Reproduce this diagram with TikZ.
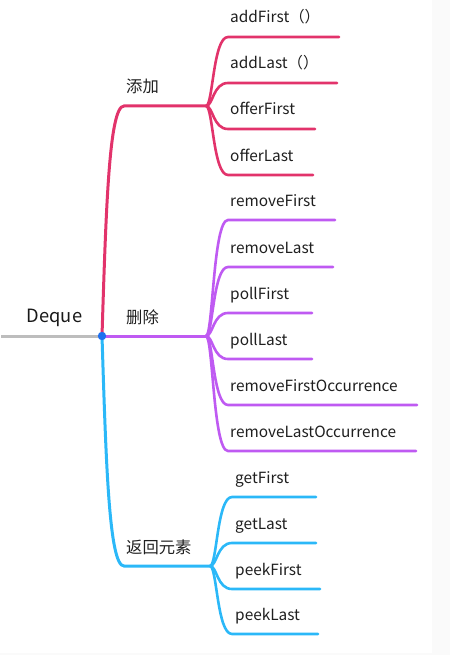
\documentclass[tikz,border=0pt]{standalone}
\usepackage{fontspec}
\setmainfont{Noto Sans CJK SC}
\definecolor{cred}{HTML}{E2336B}
\definecolor{cpur}{HTML}{BF5AF2}
\definecolor{cblu}{HTML}{2BB8F8}
\definecolor{cdot}{HTML}{1E6FF0}
\definecolor{cgray}{HTML}{BDBDBD}
\definecolor{cedge}{HTML}{FAFAFA}
\begin{document}
\begin{tikzpicture}[x=1pt,y=-1pt,
  branch/.style={line width=3pt,line cap=round},
  leaf/.style={line width=2.6pt,line cap=round},
  leaflabel/.style={anchor=base west,inner sep=0pt,font=\fontsize{15.4}{17}\selectfont,text=black!88},
  grouplabel/.style={anchor=base west,inner sep=0pt,font=\fontsize{16.3}{18}\selectfont,text=black!88},
  rootlabel/.style={anchor=base,inner sep=0pt,font=\fontsize{18.3}{20}\selectfont,text=black!90}]
\useasboundingbox (0,0) rectangle (450,655);
\fill[cedge] (432,0) rectangle (450,655);
\fill[cedge] (0,653) rectangle (450,655);

% root
\coordinate (rootstart) at (1,336);
\coordinate (center) at (102,336);
\draw[cgray,line width=3pt] (rootstart) -- (center);
\node[rootlabel] (deque) at (54.5,322) {Deque};

% ---- red: 添加
\coordinate (rc) at (124,106);
\coordinate (rf) at (206,106);
\draw[branch,cred] (center) .. controls (106,210) and (109,106) .. (rc) -- (rf);
\node[grouplabel] (tianjia) at (126,93) {添加};
\foreach \n/\y/\e/\t in {r1/37/339/{addFirst（）},r2/83/337/{addLast（）},r3/129/315/{offerFirst},r4/175/313/{offerLast}}{
  \coordinate (\n s) at (228,\y);
  \coordinate (\n e) at (\e,\y);
  \draw[leaf,cred] (rf) .. controls (213,106) and (213,\y) .. (\n s) -- (\n e);
  \node[leaflabel] (\n l) at (230,\y-14) {\t};
}

% ---- purple: 删除
\coordinate (pf) at (206,336);
\draw[branch,cpur] (center) -- (pf);
\node[grouplabel] (shanchu) at (126,323) {删除};
\foreach \n/\y/\e/\t in {p1/220/335/{removeFirst},p2/267/333/{removeLast},p3/313/312/{pollFirst},p4/359/312/{pollLast},p5/405/417/{removeFirstOccurrence},p6/451/416/{removeLastOccurrence}}{
  \coordinate (\n s) at (228,\y);
  \coordinate (\n e) at (\e,\y);
  \draw[leaf,cpur] (pf) .. controls (213,336) and (213,\y) .. (\n s) -- (\n e);
  \node[leaflabel] (\n l) at (230,\y-14) {\t};
}

% ---- blue: 返回元素
\coordinate (bc) at (124,566);
\coordinate (bf) at (210,566);
\draw[branch,cblu] (center) .. controls (106,462) and (109,566) .. (bc) -- (bf);
\node[grouplabel] (fanhui) at (126,553) {返回元素};
\foreach \n/\y/\e/\t in {b1/497/316/{getFirst},b2/543/316/{getLast},b3/589/320/{peekFirst},b4/634/318/{peekLast}}{
  \coordinate (\n s) at (232,\y);
  \coordinate (\n e) at (\e,\y);
  \draw[leaf,cblu] (bf) .. controls (217,566) and (217,\y) .. (\n s) -- (\n e);
  \node[leaflabel] (\n l) at (235,\y-14) {\t};
}

\fill[cdot] (center) circle (4.2);
\end{tikzpicture}
\end{document}
